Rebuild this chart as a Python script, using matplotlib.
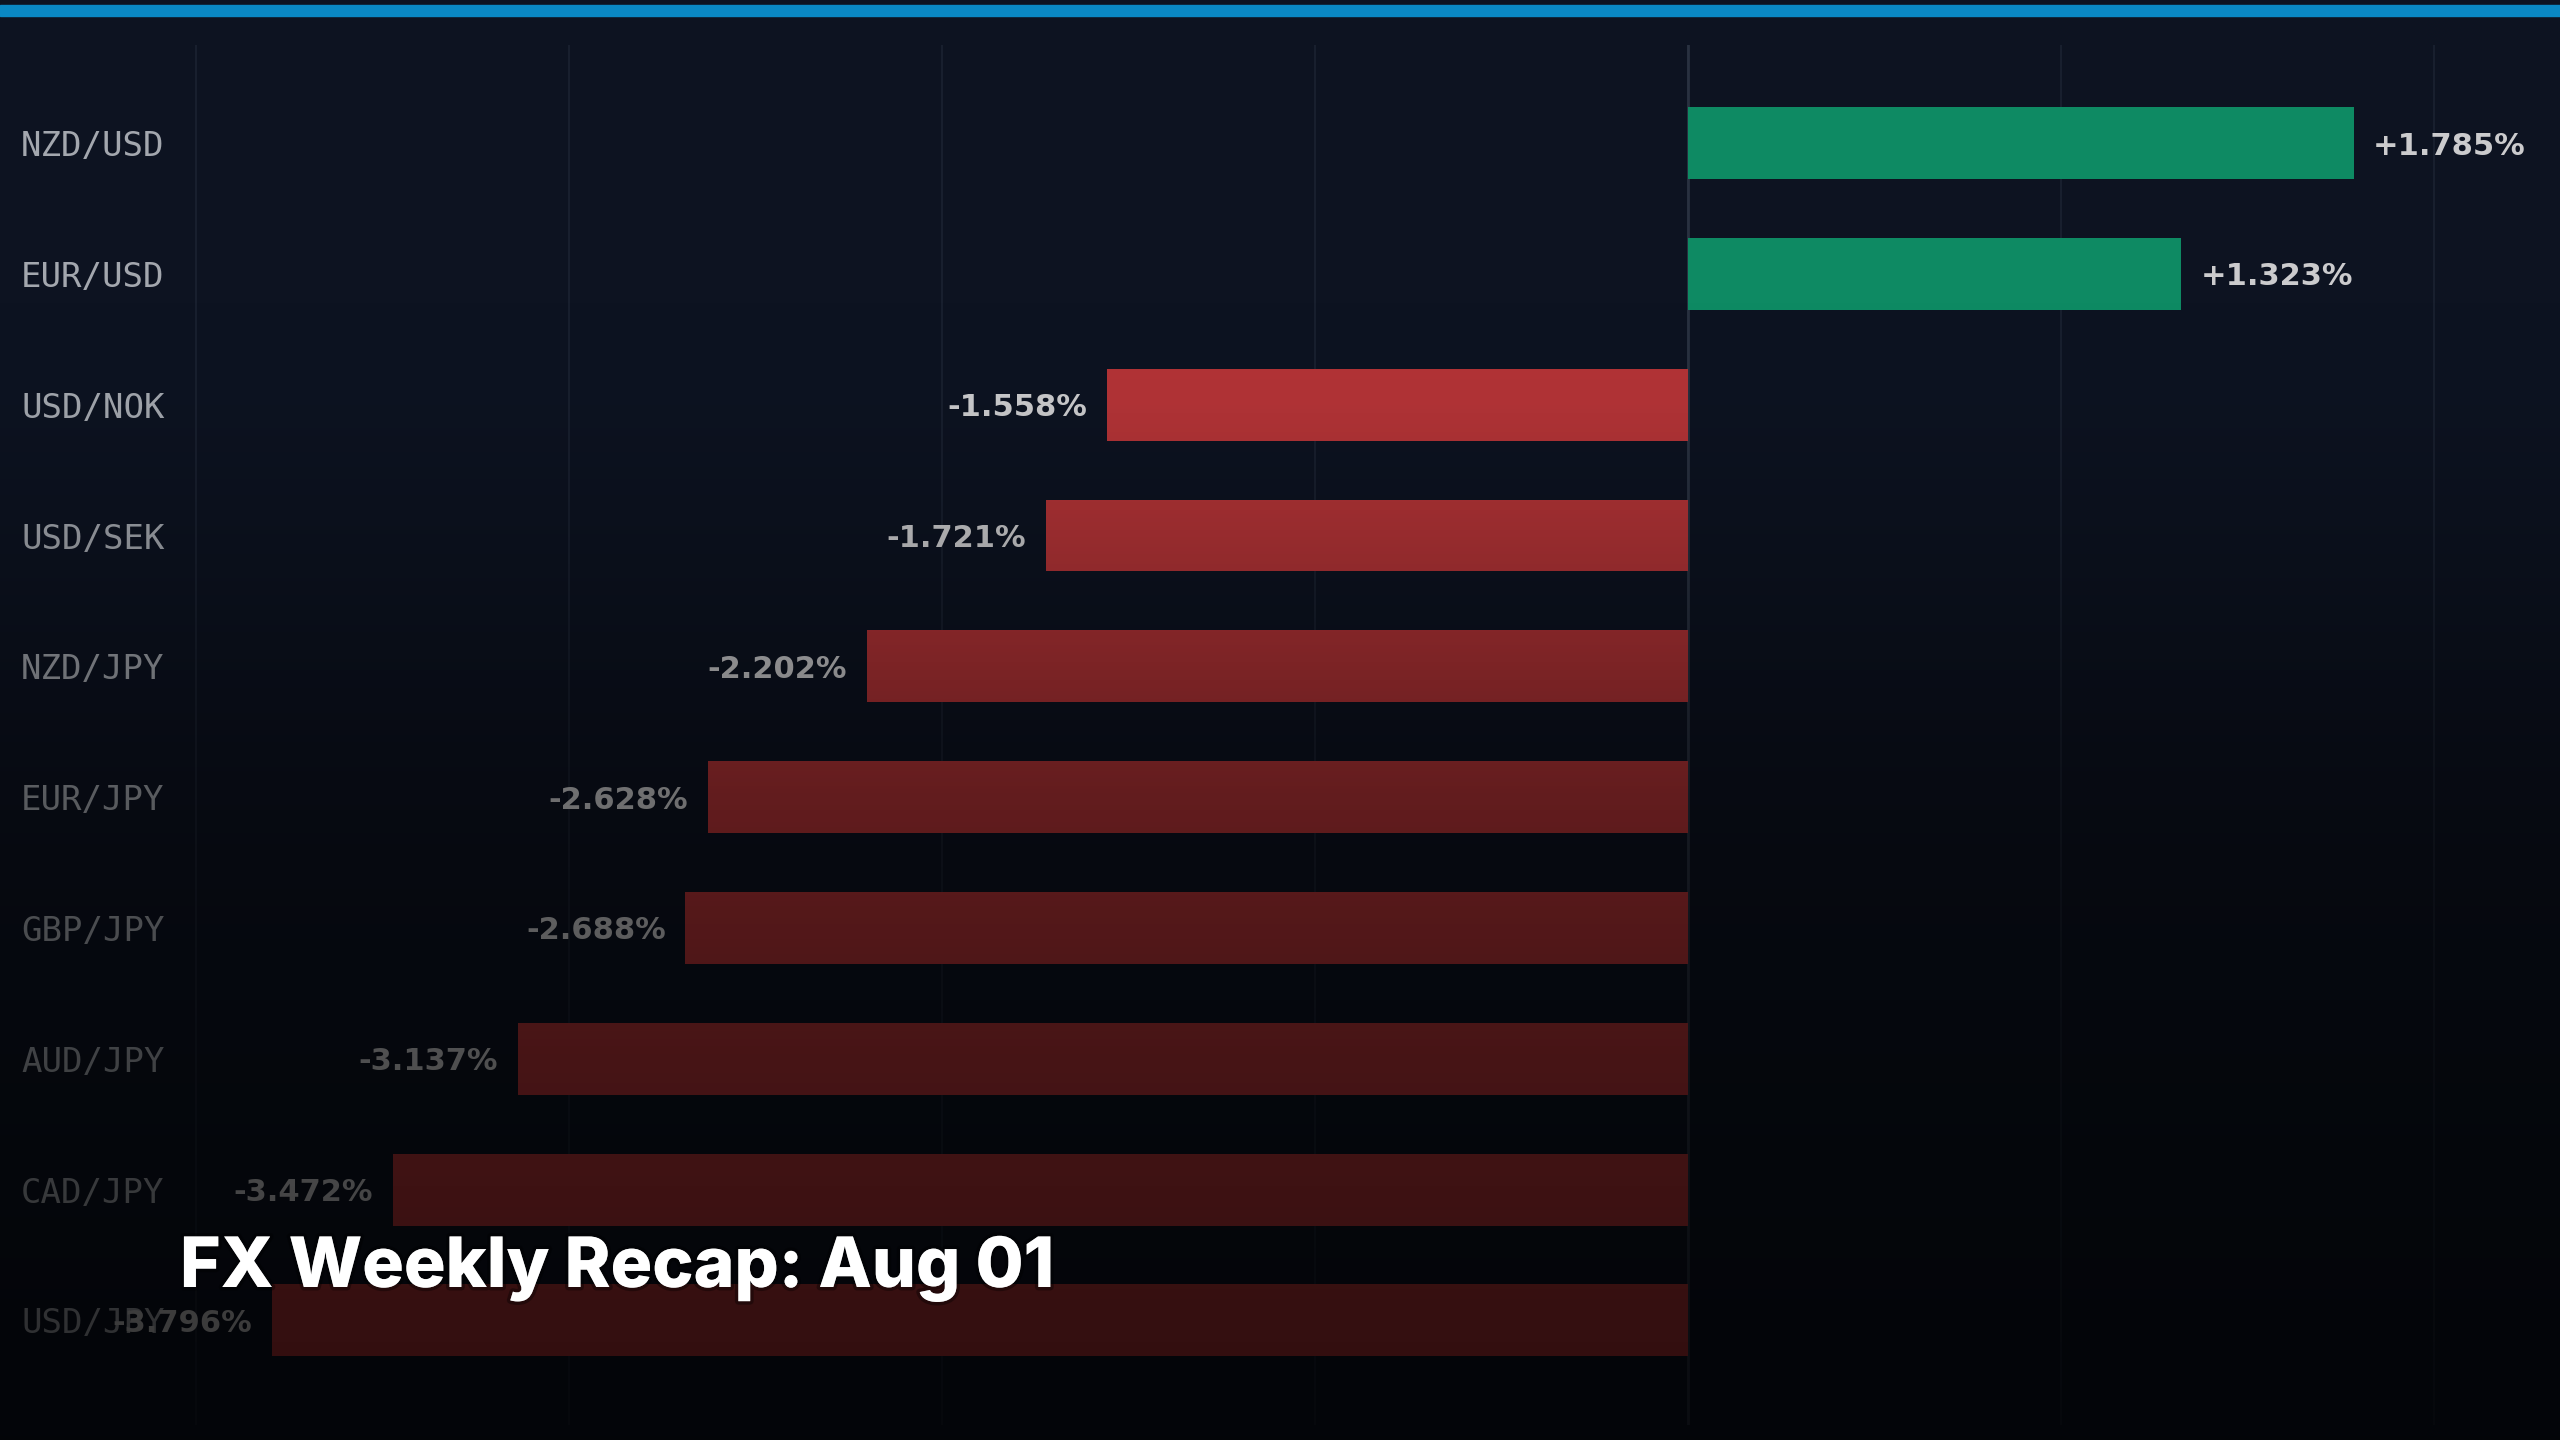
import numpy as np
import matplotlib
matplotlib.use("Agg")
import matplotlib.pyplot as plt
import matplotlib.transforms as mtransforms
import matplotlib.patheffects as pe
from matplotlib.patches import Rectangle

# Data
pairs = ['NZD/USD', 'EUR/USD', 'USD/NOK', 'USD/SEK', 'NZD/JPY',
         'EUR/JPY', 'GBP/JPY', 'AUD/JPY', 'CAD/JPY', 'USD/JPY']
changes = [1.785, 1.323, -1.558, -1.721, -2.202,
           -2.628, -2.688, -3.137, -3.472, -3.796]
title = 'FX Weekly Recap: Aug 01'

bg = '#0d1321'
green = '#0e8a63'
red = '#b43437'

fig = plt.figure(figsize=(25.6, 14.4), dpi=100)
fig.patch.set_facecolor(bg)

ax = fig.add_axes([0, 15 / 1440, 1, 1 - 60 / 1440])
ax.set_facecolor('none')
y = np.arange(len(pairs))
cols = [green if v >= 0 else red for v in changes]
ax.barh(y, changes, height=0.55, color=cols, zorder=3)

ax.set_xlim(-4.525, 2.338)
ax.set_ylim(9.8, -0.75)
ax.set_xticks(np.arange(-4, 3))
ax.grid(axis='x', color='#1a2130', lw=1.3)
ax.set_axisbelow(True)
ax.axvline(0, color='#293140', lw=2, zorder=2)
ax.tick_params(length=0, labelbottom=False, labelleft=False)
for s in ax.spines.values():
    s.set_visible(False)

# value labels
for i, v in enumerate(changes):
    txt = f'{v:+.3f}%'
    off = 14 if v >= 0 else -14
    ax.annotate(txt, (v, i), xytext=(off, 0), textcoords='offset points',
                ha='left' if v >= 0 else 'right', va='center_baseline',
                fontsize=22, fontweight='bold', color='#cbcbcd', zorder=4)

# pair labels on the left
tr = mtransforms.blended_transform_factory(fig.transFigure, ax.transData)
for i, p in enumerate(pairs):
    ax.text(21 / 2560, i, p, transform=tr, family='DejaVu Sans Mono',
            fontsize=24.5, color='#a3a7ae', ha='left', va='center_baseline')

# fade toward the bottom
ov = fig.add_axes([0, 0, 1, 1], zorder=5)
ov.axis('off')
yy = np.linspace(0, 1, 1440)
f = np.interp(yy, [0, 0.2, 0.28, 0.37, 0.46, 0.55, 0.64, 0.735, 0.826, 0.917, 1.0],
              [1, 1, 0.97, 0.84, 0.69, 0.55, 0.46, 0.39, 0.34, 0.29, 0.27])
shade = np.zeros((1440, 1, 4))
shade[:, 0, 3] = 1 - f
ov.imshow(shade, aspect='auto', extent=[0, 1, 0, 1], origin='upper',
          interpolation='nearest')
ov.set_xlim(0, 1)
ov.set_ylim(0, 1)

# top accent bar
fig.add_artist(Rectangle((0, 1 - 16 / 1440), 1, 11 / 1440, transform=fig.transFigure,
                         color='#0a88c4', zorder=10))

fig.text(180 / 2560, 1 - 1287 / 1440, title, family='Inter', fontweight=800,
         fontsize=50, color='white', va='baseline', ha='left', zorder=10,
         path_effects=[pe.withStroke(linewidth=5, foreground=(0, 0, 0, 0.35))])

fig.savefig('out.png', dpi=100, facecolor=fig.get_facecolor())
